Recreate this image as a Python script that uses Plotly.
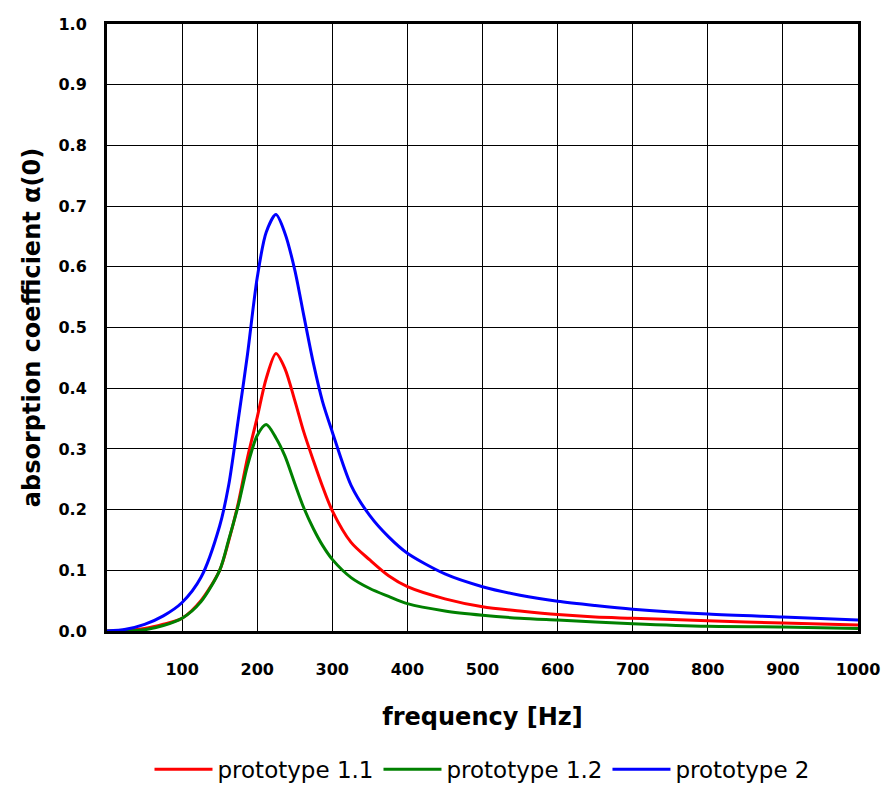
import plotly.graph_objects as go

freq = [0, 25, 50, 75, 100, 125, 150, 162, 175, 187, 200, 212, 225, 237, 250, 262, 275,
        287, 300, 325, 350, 375, 400, 450, 500, 550, 600, 650, 700, 800, 900, 1000]

proto_11 = [0.0, 0.001, 0.004, 0.011, 0.021, 0.050, 0.100, 0.148, 0.212, 0.285, 0.352,
            0.416, 0.457, 0.432, 0.380, 0.328, 0.280, 0.238, 0.198, 0.146, 0.117, 0.091,
            0.073, 0.053, 0.040, 0.033, 0.027, 0.023, 0.021, 0.017, 0.013, 0.010]

proto_12 = [0.0, 0.0, 0.002, 0.009, 0.021, 0.048, 0.100, 0.150, 0.208, 0.272, 0.322,
            0.340, 0.318, 0.288, 0.243, 0.203, 0.168, 0.141, 0.118, 0.088, 0.070, 0.057,
            0.045, 0.033, 0.026, 0.021, 0.018, 0.015, 0.012, 0.0077, 0.0066, 0.004]

proto_2 = [0.0, 0.003, 0.011, 0.025, 0.047, 0.088, 0.173, 0.240, 0.350, 0.455, 0.582,
           0.657, 0.686, 0.655, 0.595, 0.520, 0.440, 0.378, 0.328, 0.240, 0.190, 0.155,
           0.128, 0.094, 0.073, 0.059, 0.049, 0.042, 0.036, 0.028, 0.023, 0.018]

x_ticks = [100, 200, 300, 400, 500, 600, 700, 800, 900, 1000]
y_ticks = [0.0, 0.1, 0.2, 0.3, 0.4, 0.5, 0.6, 0.7, 0.8, 0.9, 1.0]

series = [("prototype 1.1", proto_11, "#ff0000"),
          ("prototype 1.2", proto_12, "#008000"),
          ("prototype 2", proto_2, "#0000ff")]

fig = go.Figure()
for name, vals, col in series:
    fig.add_trace(go.Scatter(x=freq, y=vals, mode="lines", name=name,
                             line=dict(color=col, width=3, shape="spline", smoothing=0.8)))

FONT = "DejaVu Sans"
fig.update_layout(
    width=881, height=803,
    margin=dict(l=107, r=23, t=24, b=169),
    paper_bgcolor="white", plot_bgcolor="white",
    font=dict(family=FONT, color="black"),
    showlegend=True,
    legend=dict(orientation="h", x=0.5, xanchor="center", y=-0.228, yanchor="middle",
                font=dict(size=23, family=FONT), itemwidth=58, tracegroupgap=0),
    xaxis=dict(range=[0, 1000], tickvals=x_ticks, ticktext=[str(v) for v in x_ticks],
               showgrid=True, gridcolor="black", gridwidth=1, automargin=False,
               showline=True, linecolor="black", linewidth=3, mirror=True,
               ticks="", ticklabelstandoff=22, zeroline=False,
               tickfont=dict(size=16, family=FONT, weight="bold"),
               title=dict(text="frequency [Hz]", standoff=30,
                          font=dict(size=24, family=FONT, weight="bold"))),
    yaxis=dict(range=[0, 1.0], tickvals=y_ticks, ticktext=[f"{v:.1f}" for v in y_ticks],
               showgrid=True, gridcolor="black", gridwidth=1, automargin=False,
               showline=True, linecolor="black", linewidth=3, mirror=True,
               ticks="", ticklabelstandoff=14, zeroline=False,
               tickfont=dict(size=16, family=FONT, weight="bold"),
               title=dict(text="absorption coefficient α(0)", standoff=12,
                          font=dict(size=24, family=FONT, weight="bold"))),
)

fig.write_html("out.html")
